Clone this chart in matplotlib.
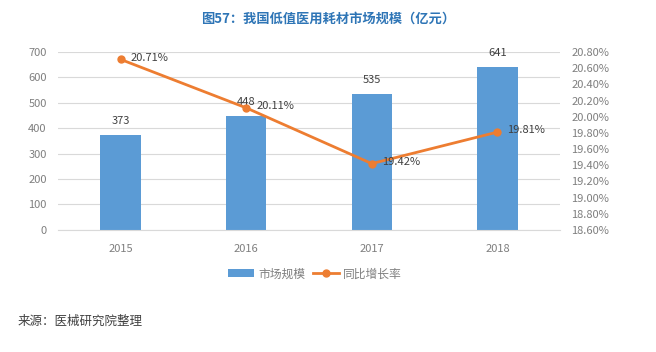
import matplotlib
matplotlib.use("Agg")
import matplotlib.pyplot as plt
import numpy as np

plt.rcParams['font.family'] = ['Noto Sans CJK SC', 'DejaVu Sans']

years = ["2015", "2016", "2017", "2018"]
market = [373, 448, 535, 641]
growth = [20.71, 20.11, 19.42, 19.81]

bar_color = "#5B9BD5"
line_color = "#ED7D31"
grey = "#7f7f7f"

fig = plt.figure(figsize=(6.56, 3.52), dpi=100)
ax = fig.add_axes([0.088, 0.347, 0.766, 0.505])
ax2 = ax.twinx()

x = np.arange(len(years))
ax.bar(x, market, width=0.32, color=bar_color, zorder=2, label="市场规模")
for xi, v in zip(x, market):
    ax.text(xi, v + 35, str(v), ha="center", va="bottom", fontsize=8, color="#404040")

ax.set_ylim(0, 700)
ax.set_yticks(range(0, 701, 100))
ax.set_xlim(-0.5, 3.5)
ax.set_xticks(x)
ax.set_xticklabels(years)
ax.grid(axis="y", color="#d9d9d9", linewidth=0.8, zorder=0)
ax.set_axisbelow(True)

ax2.plot(x, growth, color=line_color, linewidth=2, marker="o", markersize=5, label="同比增长率", zorder=3)
for xi, v in zip(x, growth):
    ax2.text(xi + 0.08, v + 0.02, f"{v:.2f}%", ha="left", va="center", fontsize=8, color="#404040")
ax2.set_ylim(18.6, 20.8)
ax2.set_yticks(np.arange(18.6, 20.81, 0.2))
ax2.set_yticklabels([f"{t:.2f}%" for t in np.arange(18.6, 20.81, 0.2)])

for a in (ax, ax2):
    for s in a.spines.values():
        s.set_visible(False)
    a.tick_params(length=0, labelsize=8, labelcolor=grey)
ax.spines["bottom"].set_visible(True)
ax.spines["bottom"].set_color("#d9d9d9")
ax.tick_params(axis="x", pad=10)
ax.tick_params(axis="y", pad=8)
ax2.tick_params(axis="y", pad=8)

h1, l1 = ax.get_legend_handles_labels()
h2, l2 = ax2.get_legend_handles_labels()
fig.legend(h1 + h2, l1 + l2, loc="center", bbox_to_anchor=(0.48, 0.222), ncol=2,
           frameon=False, fontsize=8.5, labelcolor=grey, handlelength=2.2, columnspacing=0.6,
           handletextpad=0.4)

fig.text(0.5, 0.948, "图57：我国低值医用耗材市场规模（亿元）", ha="center", va="center",
         fontsize=9.5, fontweight="bold", color="#2E75B6")
fig.text(0.027, 0.088, "来源：医械研究院整理", ha="left", va="center", fontsize=9, color="#404040")

fig.savefig("out.png", dpi=100)
